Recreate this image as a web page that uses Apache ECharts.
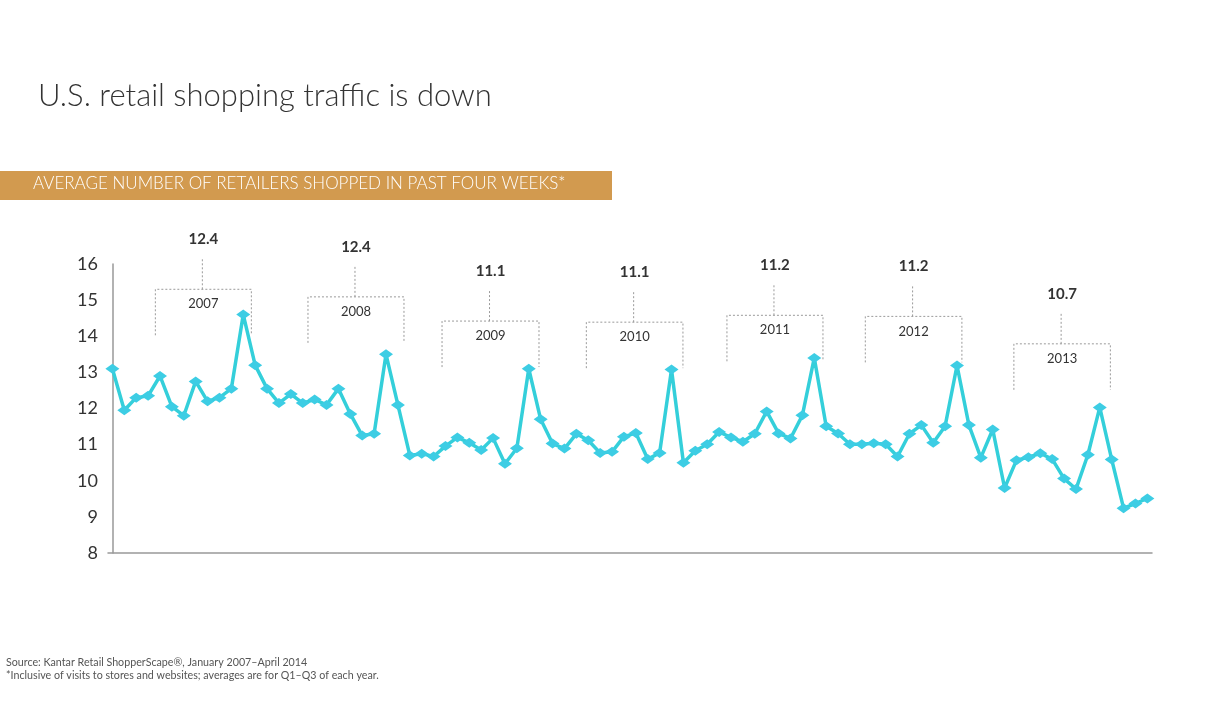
<!DOCTYPE html>
<html>
<head>
<meta charset="utf-8">
<script src="https://cdn.jsdelivr.net/npm/echarts@6/dist/echarts.min.js"></script>
<style>
  html, body { margin: 0; padding: 0; background: #fff; }
  #chart { width: 1215px; height: 701px; }
</style>
</head>
<body>
<div id="chart"></div>
<script>
/* global echarts */

// 月度数据：2007 年 1 月 — 2014 年 4 月（88 个月）
const MONTHS = [];
for (let y = 2007; y <= 2014; y++) {
  for (let m = 1; m <= 12; m++) {
    if (y === 2014 && m > 4) break;
    MONTHS.push(y + '-' + String(m).padStart(2, '0'));
  }
}

const RETAILERS = [
  13.1, 11.95, 12.3, 12.35, 12.9, 12.05, 11.8, 12.75, 12.2, 12.3, 12.55, 14.6,   // 2007
  13.2, 12.55, 12.15, 12.4, 12.15, 12.25, 12.1, 12.55, 11.85, 11.25, 11.3, 13.5, // 2008
  12.1, 10.7, 10.75, 10.67, 10.96, 11.2, 11.05, 10.85, 11.18, 10.47, 10.9, 13.1, // 2009
  11.7, 11.03, 10.89, 11.3, 11.12, 10.77, 10.8, 11.22, 11.32, 10.6, 10.77, 13.08, // 2010
  10.5, 10.83, 11.01, 11.35, 11.2, 11.08, 11.3, 11.92, 11.31, 11.17, 11.81, 13.4, // 2011
  11.51, 11.31, 11.01, 11.01, 11.04, 11.01, 10.67, 11.3, 11.54, 11.05, 11.51, 13.19, // 2012
  11.54, 10.64, 11.42, 9.8, 10.57, 10.65, 10.76, 10.6, 10.06, 9.77, 10.72, 12.03, // 2013
  10.59, 9.24, 9.37, 9.51,                                                        // 2014
];

// 年度均值（Q1–Q3）
const YEARS = ['2007', '2008', '2009', '2010', '2011', '2012', '2013'];
const YEAR_AVG = ['12.4', '12.4', '11.1', '11.1', '11.2', '11.2', '10.7'];

const Y_TICKS = [8, 9, 10, 11, 12, 13, 14, 15, 16];

// 标注括号的版式位置（以月序号 / 纵轴值表示，仅用于排版）
const BRACKET_LEFT = [3.61, 16.44, 27.71, 39.84, 51.66, 63.29, 75.78];
const BRACKET_RIGHT = [11.68, 24.51, 35.86, 47.96, 59.73, 71.41, 83.89];
const BRACKET_TOP = [15.30, 15.09, 14.42, 14.39, 14.58, 14.55, 13.79];

const FONT = 'Lato, "Open Sans", "Noto Sans", sans-serif';
const LINE_COLOR = '#34cfda';
const DOT = '#9a9a9a';

const chart = echarts.init(document.getElementById('chart'), null, { renderer: 'canvas' });

const bracketData = YEARS.map((y, i) => [BRACKET_LEFT[i], BRACKET_RIGHT[i], BRACKET_TOP[i], i]);

function renderBracket(params, api) {
  const x0 = api.value(0), x1 = api.value(1), top = api.value(2), idx = api.value(3);
  const pl = api.coord([x0, top]);
  const pr = api.coord([x1, top]);
  const cx = (pl[0] + pr[0]) / 2 - 1;
  const legH = 46, stemH = 31;
  const dash = { stroke: DOT, lineWidth: 1, lineDash: [2, 2], fill: null };
  return {
    type: 'group',
    children: [
      {
        type: 'polyline',
        shape: { points: [[pl[0], pl[1] + legH], pl, pr, [pr[0], pr[1] + legH]] },
        style: dash,
      },
      {
        type: 'line',
        shape: { x1: cx, y1: pl[1], x2: cx, y2: pl[1] - stemH },
        style: dash,
      },
      {
        type: 'text',
        x: cx + 1, y: pl[1] - 50,
        style: {
          text: YEAR_AVG[idx], fill: '#333', font: 'bold 15px ' + FONT,
          align: 'center', verticalAlign: 'middle',
          shadowColor: 'rgba(0,0,0,0.25)', shadowBlur: 2, shadowOffsetX: 1, shadowOffsetY: 1,
        },
      },
      {
        type: 'text',
        x: cx + 1, y: pl[1] + 15,
        style: {
          text: YEARS[idx], fill: '#333', font: '13px ' + FONT,
          align: 'center', verticalAlign: 'middle',
        },
      },
    ],
  };
}

chart.setOption({
  animation: false,
  grid: { left: 108, right: 63, top: 264, bottom: 148, containLabel: false },
  xAxis: {
    type: 'value',
    min: -0.37,
    max: 87.39,
    axisLine: { show: true, lineStyle: { color: '#999', width: 1.5 } },
    axisTick: { show: false },
    axisLabel: { show: false },
    splitLine: { show: false },
  },
  yAxis: {
    type: 'value',
    min: Y_TICKS[0],
    max: Y_TICKS[Y_TICKS.length - 1],
    interval: 1,
    axisLine: { show: true, lineStyle: { color: '#999', width: 1.5 } },
    axisTick: { show: false },
    splitLine: { show: false },
    axisLabel: { color: '#333', fontSize: 18, fontFamily: FONT, margin: 10 },
  },
  graphic: [
    {
      type: 'text', left: 38, top: 80,
      style: { text: 'U.S. retail shopping traffic is down', fill: '#333', font: '300 31px ' + FONT },
    },
    {
      type: 'rect', left: 0, top: 171,
      shape: { width: 612, height: 29 },
      style: { fill: '#d29a4f' },
    },
    {
      type: 'text', left: 33, top: 175,
      style: { text: 'AVERAGE NUMBER OF RETAILERS SHOPPED IN PAST FOUR WEEKS*', fill: '#fff', font: '300 17px ' + FONT },
    },
    {
      type: 'text', left: 6, top: 657,
      style: { text: 'Source: Kantar Retail ShopperScape®, January 2007–April 2014', fill: '#555', font: '10.7px ' + FONT },
    },
    {
      type: 'text', left: 6, top: 670,
      style: { text: '*Inclusive of visits to stores and websites; averages are for Q1–Q3 of each year.', fill: '#555', font: '10.7px ' + FONT },
    },
  ],
  series: [
    {
      type: 'line',
      data: RETAILERS.map((v, i) => [i, v]),
      symbol: 'diamond',
      symbolSize: [14, 10],
      lineStyle: { color: LINE_COLOR, width: 3.5 },
      itemStyle: { color: '#3dcde4' },
      z: 3,
    },
    {
      type: 'custom',
      data: bracketData,
      renderItem: renderBracket,
      clip: false,
      silent: true,
      z: 2,
    },
  ],
});
</script>
</body>
</html>
